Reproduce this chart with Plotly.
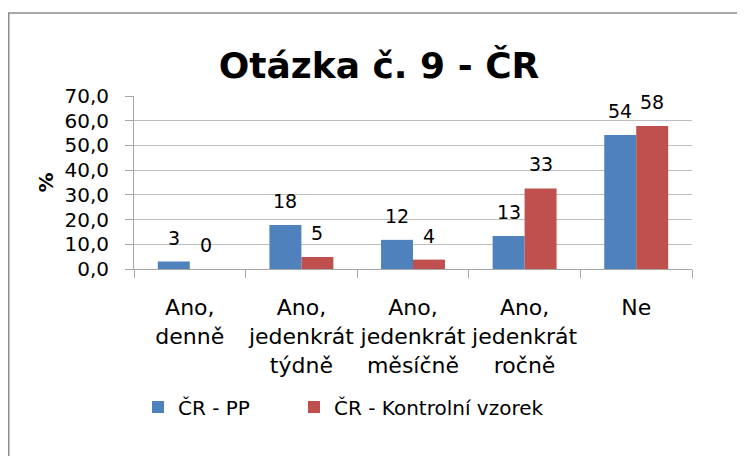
import plotly.graph_objects as go

# ---- data ----
categories = ["Ano,<br>denně", "Ano,<br>jedenkrát<br>týdně", "Ano,<br>jedenkrát<br>měsíčně",
              "Ano,<br>jedenkrát<br>ročně", "Ne"]
series_pp_name = "ČR - PP"
series_kv_name = "ČR - Kontrolní vzorek"
pp_values = [3.0, 17.8, 11.8, 13.4, 54.2]
kv_values = [0.0, 4.9, 3.8, 32.6, 57.9]
y_tick_values = [0, 10, 20, 30, 40, 50, 60, 70]
title_text = "Otázka č. 9 - ČR"
y_title = "%"

# ---- layout constants (page has an 8px body margin) ----
OFF = 8
W, H = 745 - OFF, 456 - OFF
ML, MR, MT, MB = 134 - OFF, 53, 96 - OFF, 187
PW, PH = W - ML - MR, H - MT - MB
FONT = "DejaVu Sans"
BLUE, RED = "#4F81BD", "#C0504D"


def px_to_paper_x(px):
    return (px - ML) / PW


def px_to_paper_y(py):
    return (H - MB - py) / PH


fig = go.Figure()
fig.add_trace(go.Bar(x=categories, y=pp_values, name=series_pp_name, legend="legend",
                     marker=dict(color=BLUE, line=dict(width=0))))
fig.add_trace(go.Bar(x=categories, y=kv_values, name=series_kv_name, legend="legend2",
                     marker=dict(color=RED, line=dict(width=0))))

bargap = 0.427
bar_w = PW / len(categories) * (1 - bargap) / 2
annotations = []
for vals, sign in ((pp_values, -1), (kv_values, 1)):
    for c, v in zip(categories, vals):
        annotations.append(dict(x=c, y=v, xref="x", yref="y", text=f"{v:.0f}",
                                showarrow=False, xshift=sign * bar_w / 2,
                                yshift=24, yanchor="middle", xanchor="center",
                                font=dict(family=FONT, size=19, color="black")))

shapes = [dict(type="rect", xref="paper", yref="paper",
               x0=px_to_paper_x(0.75), x1=px_to_paper_x(W + 20),
               y0=px_to_paper_y(H + 20), y1=px_to_paper_y(5),
               line=dict(color="#8C8C8C", width=1.5), fillcolor="rgba(0,0,0,0)", layer="below")]

legend_common = dict(orientation="h", xanchor="left", yanchor="middle",
                     y=px_to_paper_y(399),
                     font=dict(family=FONT, size=20, color="black"),
                     bgcolor="rgba(0,0,0,0)")

fig.update_layout(
    width=W, height=H,
    margin=dict(l=ML, r=MR, t=MT, b=MB, autoexpand=False),
    paper_bgcolor="white", plot_bgcolor="white",
    separators=", ",
    barmode="group", bargap=bargap, bargroupgap=0,
    font=dict(family=FONT, size=20, color="black"),
    title=dict(text=title_text, x=371 / W, xref="container", xanchor="center",
               y=1 - 57 / H, yref="container", yanchor="middle",
               font=dict(family=FONT, size=36, color="black", weight="bold")),
    showlegend=True,
    legend=dict(x=px_to_paper_x(130), **legend_common),
    legend2=dict(x=px_to_paper_x(286), **legend_common),
    annotations=annotations,
    shapes=shapes,
)

fig.update_xaxes(
    type="category", showline=True, linecolor="#A6A6A6", linewidth=1,
    ticks="outside", tickson="boundaries", ticklen=8, tickcolor="#A6A6A6",
    showgrid=False, tickfont=dict(family=FONT, size=22, color="black"),
    tickangle=0, ticklabelstandoff=19, zeroline=False,
)
fig.update_yaxes(
    range=[0, 70], tickmode="array", tickvals=y_tick_values, tickformat=".1f",
    showline=True, linecolor="#A6A6A6", linewidth=1,
    ticks="outside", ticklen=8, tickcolor="#A6A6A6",
    showgrid=True, gridcolor="#BDBDBD", gridwidth=1, zeroline=False,
    tickfont=dict(family=FONT, size=20, color="black"), ticklabelstandoff=12,
    title=dict(text=y_title, font=dict(family=FONT, size=20, color="black", weight="bold"),
               standoff=5),
)

fig.write_html("out.html")
